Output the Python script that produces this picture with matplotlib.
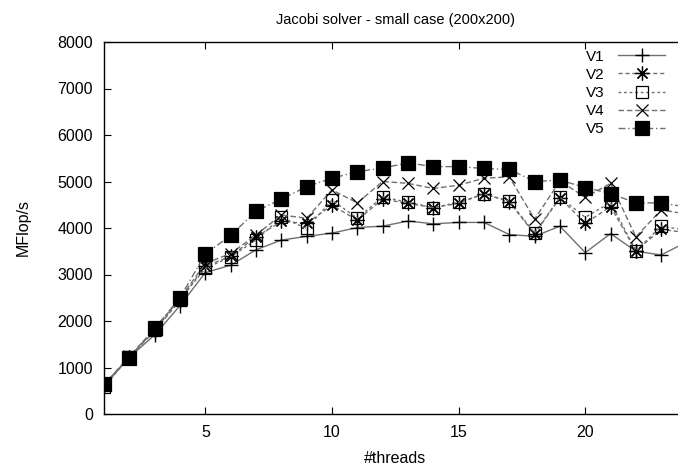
import matplotlib
matplotlib.use("Agg")
import matplotlib.pyplot as plt

threads = list(range(1, 25))
V1 = [600, 1220, 1700, 2330, 3040, 3200, 3530, 3740, 3820, 3890, 4010, 4040, 4150, 4090, 4120, 4120, 3860, 3820, 4040, 3470, 3880, 3500, 3420, 3700]
V2 = [620, 1230, 1780, 2450, 3180, 3390, 3810, 4140, 4100, 4490, 4170, 4620, 4530, 4440, 4530, 4740, 4560, 3870, 4650, 4100, 4460, 3510, 3970, 3900]
V3 = [580, 1230, 1800, 2470, 3130, 3380, 3740, 4230, 3990, 4600, 4210, 4670, 4550, 4440, 4550, 4730, 4580, 3890, 4660, 4230, 4550, 3510, 4040, 3950]
V4 = [630, 1240, 1830, 2480, 3240, 3450, 3850, 4280, 4210, 4820, 4540, 5000, 4960, 4850, 4920, 5070, 5100, 4190, 5010, 4660, 4960, 3810, 4390, 4300]
V5 = [640, 1210, 1840, 2500, 3440, 3840, 4360, 4620, 4890, 5070, 5210, 5290, 5400, 5320, 5320, 5280, 5260, 5000, 5030, 4870, 4740, 4540, 4540, 4450]
series_names = ["V1", "V2", "V3", "V4", "V5"]
x_ticks = [5, 10, 15, 20]
y_ticks = [0, 1000, 2000, 3000, 4000, 5000, 6000, 7000, 8000]

plt.rcParams['font.family'] = ['Liberation Sans', 'DejaVu Sans']

fig = plt.figure(figsize=(6.78, 4.67), dpi=100)
W, H = 678, 467
left, right, top, bottom = 104, 104 + 23 * 25.33, 42, 414
ax = fig.add_axes([left / W, 1 - bottom / H, (right - left) / W, (bottom - top) / H])

lc = '#707070'
styles = [
    dict(linestyle='-', marker='+', ms=10, mfc='none', mec='black', mew=1.0),
    dict(linestyle=(0, (3, 2)), marker=(8, 2, 0), ms=10, mfc='none', mec='black', mew=0.9),
    dict(linestyle=(0, (2, 2)), marker='s', ms=8.5, mfc='none', mec='black', mew=0.9),
    dict(linestyle=(0, (4, 2)), marker='x', ms=8.5, mfc='none', mec='black', mew=0.9),
    dict(linestyle=(0, (5, 2, 1, 2)), marker='s', ms=9.5, mfc='black', mec='black', mew=0.9),
]
for name, vals, st in zip(series_names, [V1, V2, V3, V4, V5], styles):
    ax.plot(threads, vals, color=lc, lw=1.0, label=name, **st)

ax.set_xlim(1, 24)
ax.set_ylim(0, 8000)
ax.set_xticks(x_ticks)
ax.set_yticks(y_ticks)
ax.tick_params(direction='in', length=5, width=0.8, top=True, right=True,
               labelsize=11.5, pad=8)
for s in ax.spines.values():
    s.set_linewidth(1.0)

ax.set_title("Jacobi solver - small case (200x200)", fontsize=10.5, pad=13)
ax.set_xlabel("#threads", fontsize=11.5, labelpad=8)
ax.set_ylabel("MFlop/s", fontsize=11.5, labelpad=19)

leg = ax.legend(loc='upper right', bbox_to_anchor=(673 / W, 1 - 42 / H),
                bbox_transform=fig.transFigure, frameon=False, markerfirst=False,
                fontsize=11, handlelength=3.1, labelspacing=0.27, borderpad=0,
                handletextpad=0.9)

fig.savefig("out.png", dpi=100)
